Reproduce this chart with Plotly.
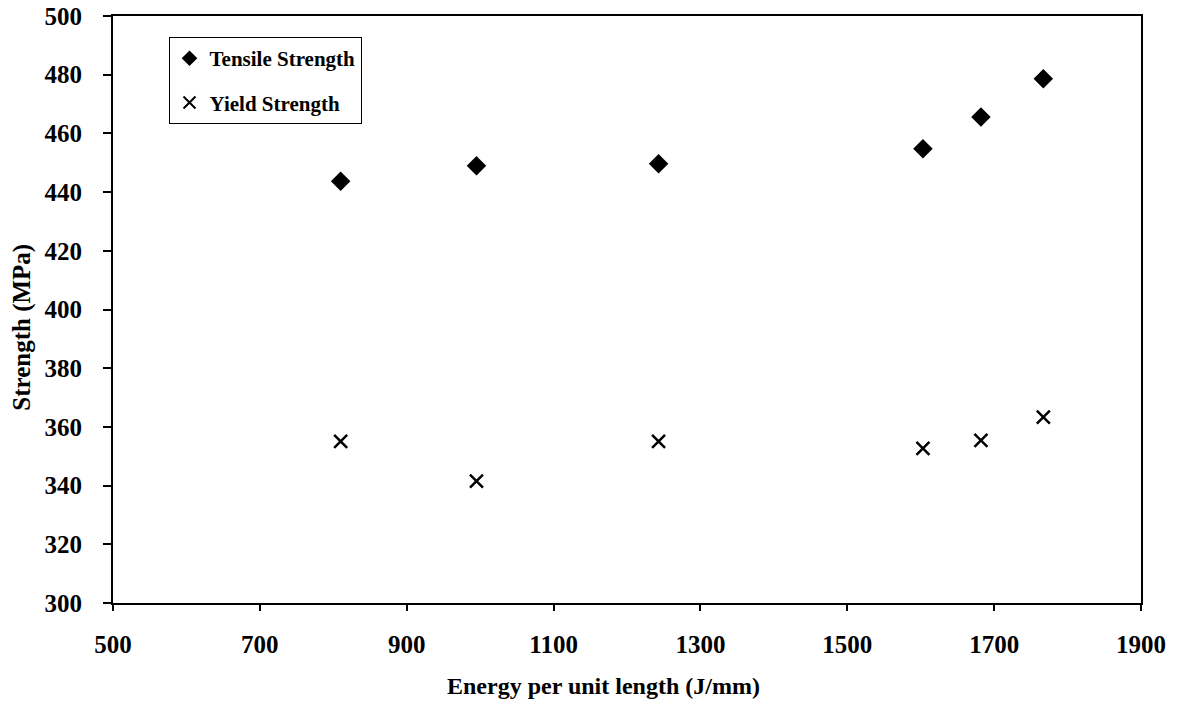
import plotly.graph_objects as go

energy = [810, 995, 1243, 1603, 1682, 1767]
tensile = [443.7, 449.0, 449.7, 454.8, 465.6, 478.6]
yield_strength = [355.1, 341.5, 355.1, 352.7, 355.4, 363.3]

x_ticks = [500, 700, 900, 1100, 1300, 1500, 1700, 1900]
y_ticks = [300, 320, 340, 360, 380, 400, 420, 440, 460, 480, 500]

font_family = "Liberation Serif, Times New Roman, serif"

fig = go.Figure()
fig.add_trace(go.Scatter(
    x=energy, y=tensile, mode="markers", name="<b>Tensile Strength</b>",
    legendgroup="tensile",
    marker=dict(symbol="diamond", size=15, color="black"),
))
fig.add_trace(go.Scatter(
    x=energy, y=yield_strength, mode="markers", name="<b>Yield Strength</b>",
    legendgroup="yield",
    marker=dict(symbol="x-thin", size=13, color="black",
                line=dict(color="black", width=2.5)),
))

fig.update_layout(
    width=1178, height=704,
    margin=dict(l=113, r=37, t=16, b=101, autoexpand=False),
    paper_bgcolor="white", plot_bgcolor="white",
    font=dict(family=font_family, color="black", size=25),
    showlegend=True,
    legend=dict(
        x=0.054, y=0.964, xanchor="left", yanchor="top",
        bgcolor="white", bordercolor="black", borderwidth=1,
        font=dict(family=font_family, size=21, color="black"),
        itemsizing="constant", itemwidth=30, tracegroupgap=14,
    ),
    xaxis=dict(
        range=[500, 1900], tickvals=x_ticks,
        ticktext=[f"<b>{v}</b>" for v in x_ticks],
        tickfont=dict(family=font_family, size=25, color="black"),
        showgrid=False, zeroline=False,
        showline=True, linecolor="black", linewidth=2, mirror=True,
        ticks="outside", ticklen=6, tickwidth=1.5, tickcolor="black",
        ticklabelstandoff=12,
    ),
    yaxis=dict(
        range=[300, 500], tickvals=y_ticks,
        ticktext=[f"<b>{v}</b>" for v in y_ticks],
        tickfont=dict(family=font_family, size=25, color="black"),
        showgrid=False, zeroline=False,
        showline=True, linecolor="black", linewidth=2, mirror=True,
        ticks="outside", ticklen=8, tickwidth=1.5, tickcolor="black",
        ticklabelstandoff=16,
    ),
    annotations=[
        dict(text="<b>Energy per unit length (J/mm)</b>", xref="paper", yref="paper",
             x=0.4776, y=-0.142, xanchor="center", yanchor="middle", showarrow=False,
             font=dict(family=font_family, size=24, color="black")),
        dict(text="<b>Strength (MPa)</b>", xref="paper", yref="paper",
             x=-0.0885, y=0.469, xanchor="center", yanchor="middle", showarrow=False,
             textangle=-90, font=dict(family=font_family, size=25, color="black")),
    ],
)

fig.write_html("out.html", config={"displayModeBar": False},
               post_script="document.body.style.margin='0';")
